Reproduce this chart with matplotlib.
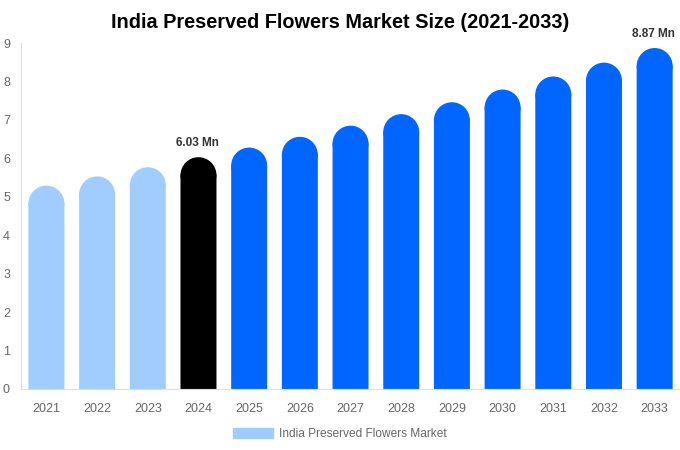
import numpy as np
import matplotlib.pyplot as plt
from matplotlib.patches import Ellipse, Patch

plt.rcParams['font.family'] = ['Liberation Sans', 'DejaVu Sans']

years = ["2021", "2022", "2023", "2024", "2025", "2026", "2027",
         "2028", "2029", "2030", "2031", "2032", "2033"]
values = [5.29, 5.53, 5.77, 6.03, 6.28, 6.56, 6.85, 7.15, 7.46, 7.79, 8.13, 8.49, 8.87]
labelled = {"2024": "6.03 Mn", "2033": "8.87 Mn"}

light = "#a0cdfe"
blue = "#0066ff"
colors = [light] * 3 + ["#000000"] + [blue] * 9

fig = plt.figure(figsize=(6.8, 4.5), dpi=100)
ax = fig.add_axes([0.031, 0.1356, 0.969, 0.7688])
ax.set_xlim(-0.5, len(years) - 0.5)
ax.set_ylim(0, 9)

width = 0.71
x = np.arange(len(years))
# radius of the rounded cap in data units (half bar width in pixels)
ax_h_px = 0.7688 * 450
ax_w_px = 0.969 * 680
r_px = width / 2 * ax_w_px / len(years)
r_data = r_px * 9 / ax_h_px

for xi, v, c in zip(x, values, colors):
    ax.bar(xi, v - r_data + 0.02, width=width, color=c, linewidth=0, snap=False)
    ax.add_patch(Ellipse((xi, v - r_data), width, 2 * r_data, color=c,
                         linewidth=0, snap=False))

for i, y in enumerate(years):
    if y in labelled:
        ax.text(x[i] - 0.03, values[i] + 0.22, labelled[y], ha="center", va="bottom",
                fontsize=8.5, fontweight="bold", color="#333333")

ax.set_xticks(x)
ax.set_xticklabels(years)
ax.set_yticks(range(0, 10))
ax.tick_params(axis="both", length=0, labelsize=9, labelcolor="#666666")
ax.tick_params(axis="x", pad=10)
ax.tick_params(axis="y", pad=8)

for s in ["top", "right"]:
    ax.spines[s].set_visible(False)
ax.spines["left"].set_color("#dddddd")
ax.spines["bottom"].set_color("#dddddd")

fig.text(0.5, 0.951, "India Preserved Flowers Market Size (2021-2033)",
         ha="center", va="center", fontsize=14.3, fontweight="bold")

fig.legend(handles=[Patch(color=light, label="India Preserved Flowers Market")],
           loc="center", bbox_to_anchor=(0.5, 0.036), frameon=False,
           fontsize=8.6, labelcolor="#666666", handlelength=3.4, handleheight=1.0,
           handletextpad=0.5)

fig.savefig("out.png", dpi=100)
